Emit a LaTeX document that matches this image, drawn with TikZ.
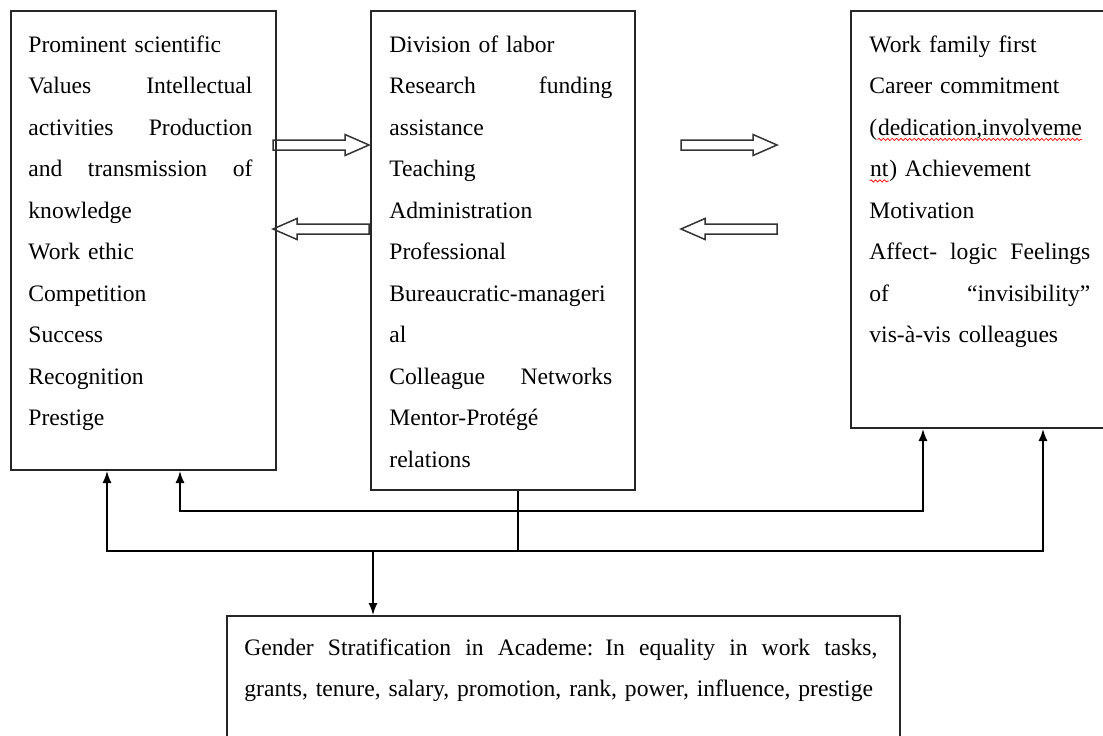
\documentclass[tikz,border=0pt]{standalone}
\usepackage{fontspec}
\setmainfont{Liberation Serif}[WordSpace=0.85]
\usetikzlibrary{arrows.meta,decorations.pathmorphing}
\newcommand\spellwave[1]{\tikz[baseline=0pt]{\node [inner sep=0pt,anchor=base west] (sw) at (0,0) {#1};
	\draw [red,line width=0.35pt,decorate,decoration={snake,amplitude=0.55pt,segment length=2.2pt}] ([yshift=-2.2pt]sw.base west) -- ([yshift=-2.2pt]sw.base east);}}
\newcommand\spreadline[1]{\leavevmode\hbox to \hsize{\spaceskip=0pt plus 1fil\relax #1}}
\tikzset{hollowarrow/.pic={
	\draw [black!80, line width=0.75pt] (-48,-5) -- (24,-5) -- (24,-10.5) -- (48,0) -- (24,10.5) -- (24,5) -- (-48,5) -- cycle;
}}

\begin{document}
\begin{tikzpicture}[x=0.5pt,y=0.5pt,>={Latex[length=6pt,width=4.5pt]},
		box/.style={draw=black!85,line width=1pt,inner sep=0pt,anchor=north west},
		txt/.style={inner sep=0pt,anchor=base west,align=left,font=\fontsize{11.8}{20.75}\selectfont},
		conn/.style={black,line width=0.75pt}]
		\useasboundingbox (0,0) rectangle (1103,-735);
		\node [box,minimum width=132.5pt,minimum height=229.5pt] (val) at (10,-10) {};
		\node [box,minimum width=132pt,minimum height=239.5pt] (div) at (370,-10) {};
		\node [box,minimum width=126.25pt,minimum height=208.5pt] (rt) at (850,-10) {};
		\node [box,minimum width=336.5pt,minimum height=62pt] (gen) at (226,-615) {};
		\node [txt,text width=112pt] (valtxt) at (28,-52) {Prominent scientific\\
			\spreadline{Values Intellectual}\\
			\spreadline{activities Production}\\
			\spreadline{and transmission of}\\
			knowledge\\
			Work ethic\\
			Competition\\
			Success\\
			Recognition\\
			Prestige};
		\node [txt,text width=111.5pt] (divtxt) at (389,-52) {Division of labor\\
			\spreadline{Research funding}\\
			assistance\\
			Teaching\\
			Administration\\
			Professional\\
			Bureaucratic-manageri\\
			al\\
			\spreadline{Colleague Networks}\\
			Mentor-Protégé\\
			relations};
		\node [txt,text width=110.5pt] (rttxt) at (869,-52) {Work family first\\
			Career commitment\\
			(\spellwave{dedication,involveme}\\
			\spellwave{nt}) Achievement\\
			Motivation\\
			\spreadline{Affect- logic Feelings}\\
			\spreadline{of “invisibility”}\\
			vis-à-vis colleagues};
		\node [txt,text width=316.5pt] (gentxt) at (244,-655) {\spreadline{Gender Stratification in Academe: In equality in work tasks,}\\
			\mbox{grants, tenure, salary, promotion, rank, power, influence, prestige}};
		\pic at (321,-145) {hollowarrow};
		\pic [rotate=180] at (321,-229) {hollowarrow};
		\pic at (729,-145) {hollowarrow};
		\pic [rotate=180] at (729,-229) {hollowarrow};
		\coordinate (ua) at (180,-511);
		\coordinate (ub) at (923,-511);
		\coordinate (la) at (107,-551);
		\coordinate (lb) at (1043,-551);
		\coordinate (hub) at (518,-551);
		\coordinate (drop) at (373,-551);
		\draw [conn,<->] (val.south -| ua) -- (ua) -- (ub) -- (rt.south -| ub);
		\draw [conn,<->] (val.south -| la) -- (la) -- (lb) -- (rt.south -| lb);
		\draw [conn] (div.south -| hub) -- (hub);
		\draw [conn,->] (drop) -- (gen.north -| drop);
	\end{tikzpicture}
\end{document}
